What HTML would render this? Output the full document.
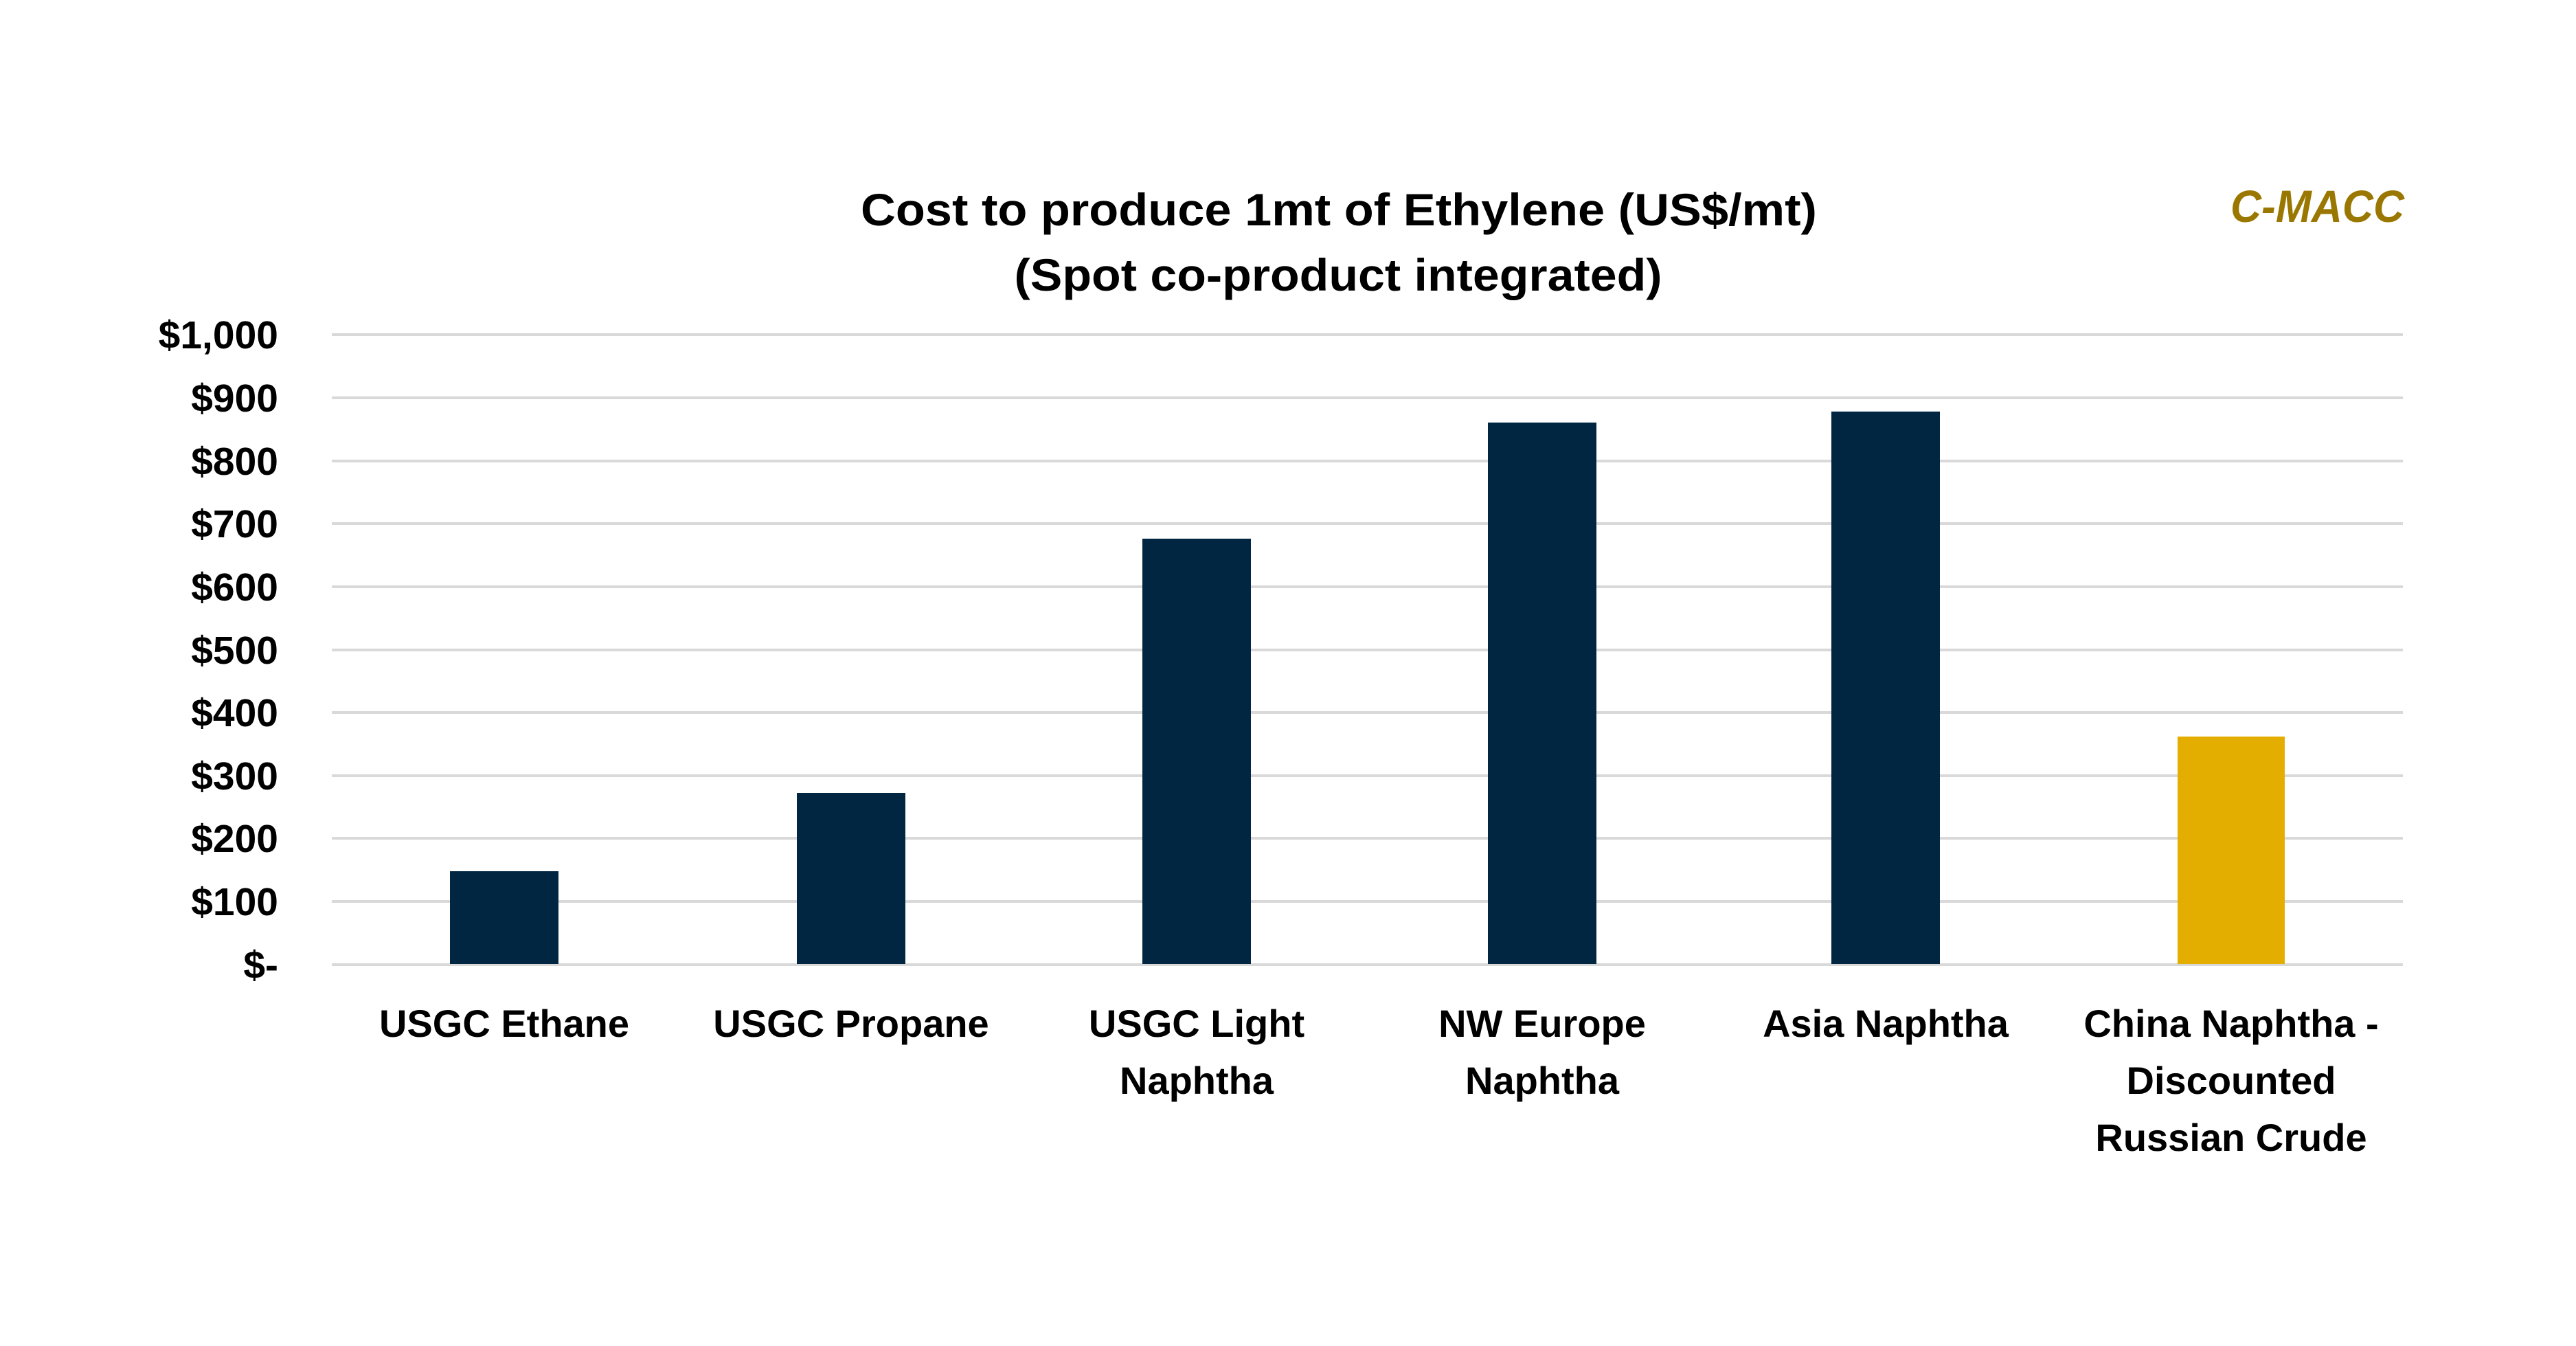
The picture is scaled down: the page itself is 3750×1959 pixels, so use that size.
<!DOCTYPE html>
<html><head><meta charset="utf-8"><style>html,body{margin:0;padding:0;background:#fff}svg{display:block}</style></head>
<body>
<svg width="3750" height="1959" viewBox="0 0 3750 1959" xmlns="http://www.w3.org/2000/svg" font-family="Liberation Sans, sans-serif" font-weight="bold">
<rect width="3750" height="1959" fill="#fff"/>
<g stroke="#d9d9d9" stroke-width="4">
<line x1="483" x2="3498" y1="487" y2="487"/>
<line x1="483" x2="3498" y1="579" y2="579"/>
<line x1="483" x2="3498" y1="671" y2="671"/>
<line x1="483" x2="3498" y1="762" y2="762"/>
<line x1="483" x2="3498" y1="854" y2="854"/>
<line x1="483" x2="3498" y1="946" y2="946"/>
<line x1="483" x2="3498" y1="1037" y2="1037"/>
<line x1="483" x2="3498" y1="1129" y2="1129"/>
<line x1="483" x2="3498" y1="1220" y2="1220"/>
<line x1="483" x2="3498" y1="1312" y2="1312"/>
<line x1="483" x2="3498" y1="1404" y2="1404"/>
</g>
<g fill="#002641">
<rect x="655" y="1268" width="158" height="135"/>
<rect x="1160" y="1154" width="158" height="249"/>
<rect x="1663" y="784" width="158" height="619"/>
<rect x="2166" y="615" width="158" height="788"/>
<rect x="2666" y="599" width="158" height="804"/>
</g>
<rect x="3170" y="1072" width="156" height="331" fill="#e3ae00"/>
<g font-size="57" text-anchor="end" fill="#000">
<text x="405" y="507">$1,000</text>
<text x="405" y="599">$900</text>
<text x="405" y="691">$800</text>
<text x="405" y="782">$700</text>
<text x="405" y="874">$600</text>
<text x="405" y="966">$500</text>
<text x="405" y="1057">$400</text>
<text x="405" y="1149">$300</text>
<text x="405" y="1240">$200</text>
<text x="405" y="1332">$100</text>
<text x="405" y="1424">$-</text>
</g>
<g font-size="56" text-anchor="middle" fill="#000">
<text x="734" y="1509">USGC Ethane</text>
<text x="1239" y="1509">USGC Propane</text>
<text x="1742" y="1509">USGC Light</text>
<text x="1742" y="1592">Naphtha</text>
<text x="2245" y="1509">NW Europe</text>
<text x="2245" y="1592">Naphtha</text>
<text x="2745" y="1509">Asia Naphtha</text>
<text x="3248" y="1509">China Naphtha -</text>
<text x="3248" y="1592">Discounted</text>
<text x="3248" y="1675">Russian Crude</text>
</g>
<g font-size="66" text-anchor="middle" fill="#000">
<text x="1949" y="328" textLength="1392" lengthAdjust="spacingAndGlyphs">Cost to produce 1mt of Ethylene (US$/mt)</text>
<text x="1948" y="423" textLength="943" lengthAdjust="spacingAndGlyphs">(Spot co-product integrated)</text>
</g>
<text x="3500" y="323" font-size="66" font-style="italic" text-anchor="end" fill="#9a7700" textLength="253" lengthAdjust="spacingAndGlyphs">C-MACC</text>
</svg>
</body></html>
